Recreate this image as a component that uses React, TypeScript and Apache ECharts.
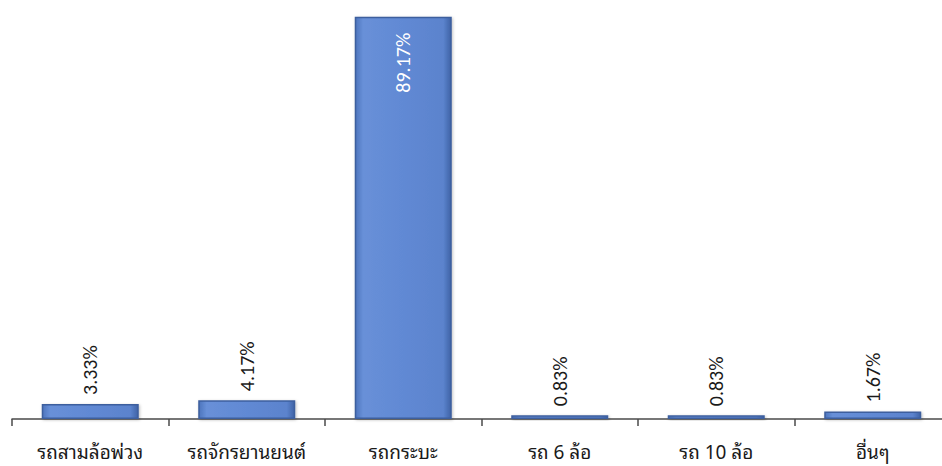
import React, { useEffect, useRef } from "react";
import * as echarts from "echarts";

// Vehicle types and their share (%)
const categories = ["รถสามล้อพ่วง", "รถจักรยานยนต์", "รถกระบะ", "รถ 6 ล้อ", "รถ 10 ล้อ", "อื่นๆ"];
const shares = [3.33, 4.17, 89.17, 0.83, 0.83, 1.67];

const THAI_FONT = "Tahoma, Waree, 'Noto Sans Thai Looped', Loma, Garuda, 'Noto Sans Thai', 'Noto Sans', sans-serif";
const LABEL_FONT = "Carlito, Calibri, Lato, 'Liberation Sans', sans-serif";

export default function App() {
  const ref = useRef<HTMLDivElement>(null);

  useEffect(() => {
    if (!ref.current) return;
    const chart = echarts.init(ref.current, undefined, { renderer: "svg" });

    const barFill = new echarts.graphic.LinearGradient(0, 0, 1, 0, [
      { offset: 0, color: "#4d75bd" },
      { offset: 0.08, color: "#6890d8" },
      { offset: 0.5, color: "#6189d4" },
      { offset: 0.92, color: "#5b83cd" },
      { offset: 1, color: "#3f63a6" },
    ]);

    const bigIndex = shares.indexOf(Math.max(...shares));

    chart.setOption({
      animation: false,
      backgroundColor: "#ffffff",
      grid: {
        left: 12,
        width: 939,
        top: 13,
        bottom: 47,
        containLabel: false,
        outerBoundsMode: "none",
      },
      xAxis: {
        type: "category",
        data: categories,
        axisLine: { show: true, lineStyle: { color: "#4a4a4a", width: 1.5 } },
        axisTick: { show: true, length: 7, lineStyle: { color: "#4a4a4a", width: 1.5 } },
        axisLabel: {
          color: "#1a1a1a",
          fontSize: 19,
          fontFamily: THAI_FONT,
          margin: 22,
          interval: 0,
        },
      },
      yAxis: {
        type: "value",
        min: 0,
        max: 90,
        show: false,
        splitLine: { show: false },
      },
      series: [
        {
          type: "bar",
          data: shares.map((v, i) =>
            i === bigIndex
              ? {
                  value: v,
                  label: {
                    position: "insideTop",
                    align: "right",
                    verticalAlign: "middle",
                    distance: 16,
                    color: "#ffffff",
                  },
                }
              : v
          ),
          barCategoryGap: "38%",
          itemStyle: {
            color: barFill,
            borderColor: "#3d5f9e",
            borderWidth: 1.5,
            shadowColor: "rgba(0,0,0,0.25)",
            shadowBlur: 3,
            shadowOffsetX: 1,
            shadowOffsetY: 1,
          },
          label: {
            show: true,
            position: "top",
            rotate: 90,
            align: "left",
            verticalAlign: "middle",
            distance: 9,
            fontSize: 20,
            fontFamily: LABEL_FONT,
            color: "#1a1a1a",
            formatter: (p: any) => `${Number(p.value).toFixed(2)}%`,
          },
        },
      ],
    });

    return () => chart.dispose();
  }, []);

  return (
    <div
      ref={ref}
      style={{ position: "absolute", left: 0, top: 0, width: 942, height: 466 }}
    />
  );
}
